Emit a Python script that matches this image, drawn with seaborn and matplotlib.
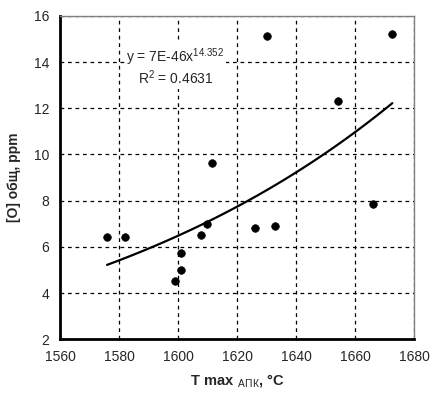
import numpy as np
import pandas as pd
import matplotlib
matplotlib.use("Agg")
import matplotlib.pyplot as plt
import seaborn as sns

# -----------------------------
# Data
# -----------------------------
t_max = [1575.8, 1581.9, 1598.9, 1600.8, 1600.8, 1607.7, 1609.7,
         1611.4, 1625.9, 1632.7, 1630.0, 1672.6, 1654.1, 1665.9]
o_total = [6.41, 6.41, 4.53, 5.01, 5.72, 6.50, 7.01,
           9.62, 6.80, 6.90, 15.13, 15.23, 12.33, 7.85]

trend_text = "y = 7E-46x$^{14.352}$\nR$^{2}$ = 0.4631"
x_ticks = [1560, 1580, 1600, 1620, 1640, 1660, 1680]
y_ticks = [2, 4, 6, 8, 10, 12, 14, 16]

df = pd.DataFrame({"t": t_max, "o": o_total})

# power trendline, fitted in log space like Excel does
b, log_a = np.polyfit(np.log(df["t"]), np.log(df["o"]), 1)
fit = pd.DataFrame({"t": np.linspace(df["t"].min(), df["t"].max(), 100)})
fit["o"] = np.exp(log_a) * fit["t"] ** b

# -----------------------------
# Plot
# -----------------------------
sns.set_style("white")
plt.rcParams["font.family"] = ["Liberation Sans", "DejaVu Sans"]
plt.rcParams["mathtext.fontset"] = "custom"
plt.rcParams["mathtext.rm"] = "Liberation Sans"
plt.rcParams["mathtext.bf"] = "Liberation Sans:bold"

fig = plt.figure(figsize=(4.35, 3.95), dpi=100)
ax = fig.add_axes([0.139, 0.141, 0.813, 0.819])

sns.lineplot(data=fit, x="t", y="o", color="black", linewidth=1.6, ax=ax, zorder=3)
sns.scatterplot(data=df, x="t", y="o", color="black", s=30, edgecolor="black",
                linewidth=0.5, ax=ax, zorder=4)

ax.set_xlim(1560, 1680)
ax.set_ylim(2, 16)
ax.set_xticks(x_ticks)
ax.set_yticks(y_ticks)
ax.grid(True, color="black", linestyle=(0, (3, 3)), linewidth=0.9)
ax.set_axisbelow(True)

for side in ["left", "bottom"]:
    ax.spines[side].set_color("black")
    ax.spines[side].set_linewidth(2)
for side in ["top", "right"]:
    ax.spines[side].set_color("#808080")
    ax.spines[side].set_linewidth(1)

ax.tick_params(axis="both", direction="out", length=4, width=1.2, color="black",
               labelsize=10, pad=4)

ax.set_xlabel(r"$\mathbf{T\ max\ }_{\mathrm{АПК}}$, °C", fontsize=10.5,
              fontweight="bold", labelpad=6)
ax.set_ylabel("[O] общ, ppm", fontsize=10, fontweight="bold", labelpad=9)

ax.text(1599, 13.8, trend_text, ha="center", va="center", fontsize=10,
        linespacing=1.05, zorder=5,
        bbox=dict(facecolor="white", edgecolor="none", pad=1))

fig.savefig("out.png", dpi=100)
